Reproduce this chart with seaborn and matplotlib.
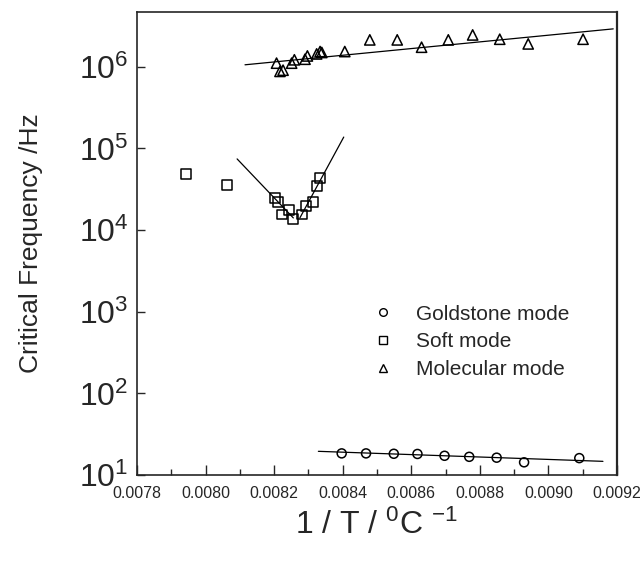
import numpy as np
import pandas as pd
import matplotlib
matplotlib.use("Agg")
import matplotlib.pyplot as plt
from matplotlib.lines import Line2D
from matplotlib.ticker import MultipleLocator, FormatStrFormatter, LogLocator, NullLocator, LogFormatterSciNotation
import seaborn as sns

# Critical frequencies of the relaxation modes versus inverse temperature
gold_x = [0.008397, 0.008468, 0.008549, 0.008618, 0.008697, 0.008769, 0.008849, 0.008929, 0.009090]
gold_y = [18.4, 18.4, 18.2, 18.1, 17.2, 16.7, 16.3, 14.3, 16.1]

soft_x = [0.007943, 0.008063, 0.008202, 0.008212, 0.008224, 0.008244,
          0.008254, 0.008282, 0.008293, 0.008314, 0.008326, 0.008334]
soft_y = [4.92e4, 3.54e4, 2.48e4, 2.22e4, 1.55e4, 1.75e4,
          1.37e4, 1.55e4, 1.96e4, 2.22e4, 3.44e4, 4.35e4]

mol_x = [0.008207, 0.008217, 0.008226, 0.008251, 0.008259, 0.008290, 0.008297,
         0.008324, 0.008334, 0.008339, 0.008406, 0.008479, 0.008559, 0.008630,
         0.008708, 0.008779, 0.008858, 0.008941, 0.009101]
mol_y = [1.11e6, 8.8e5, 9.1e5, 1.11e6, 1.22e6, 1.24e6, 1.36e6,
         1.44e6, 1.54e6, 1.50e6, 1.54e6, 2.14e6, 2.14e6, 1.74e6,
         2.14e6, 2.46e6, 2.18e6, 1.91e6, 2.18e6]

# Linear (Arrhenius-type) fit segments: end points
gold_fit_x = [0.008329, 0.009159]
gold_fit_y = [19.5, 14.7]
soft_fit_left_x = [0.008092, 0.008256]
soft_fit_left_y = [7.45e4, 1.41e4]
soft_fit_right_x = [0.008275, 0.008403]
soft_fit_right_y = [1.41e4, 1.38e5]
mol_fit_x = [0.008115, 0.009189]
mol_fit_y = [1.06e6, 2.92e6]

labels = ["Goldstone mode", "Soft mode", "Molecular mode"]
x_ticks = [0.0078, 0.0080, 0.0082, 0.0084, 0.0086, 0.0088, 0.0090, 0.0092]

sns.set_style("ticks")
plt.rcParams["font.family"] = ["Liberation Sans", "DejaVu Sans"]
plt.rcParams["mathtext.fontset"] = "custom"
plt.rcParams["mathtext.rm"] = "Liberation Sans"
plt.rcParams["mathtext.it"] = "Liberation Sans:italic"
plt.rcParams["mathtext.default"] = "regular"

fig = plt.figure(figsize=(6.44, 5.69), dpi=100)
ax = fig.add_axes([137 / 644, 1 - 475 / 569, 480 / 644, 463 / 569])

pt_kw = dict(color="black", facecolor="none", edgecolor="black", linewidth=1.1, legend=False)
sns.scatterplot(x=gold_x, y=gold_y, marker="o", s=42, ax=ax, **pt_kw)
sns.scatterplot(x=soft_x, y=soft_y, marker="s", s=50, ax=ax, **pt_kw)
sns.scatterplot(x=mol_x, y=mol_y, marker="^", s=55, ax=ax, **pt_kw)

line_kw = dict(color="black", linewidth=0.9, sort=False, legend=False)
for fx, fy in [(gold_fit_x, gold_fit_y), (soft_fit_left_x, soft_fit_left_y),
               (soft_fit_right_x, soft_fit_right_y), (mol_fit_x, mol_fit_y)]:
    sns.lineplot(x=fx, y=fy, ax=ax, **line_kw)

ax.set_yscale("log")
ax.set_xlim(0.0078, 0.0092)
ax.set_ylim(10, 4.7e6)

ax.set_xticks(x_ticks)
ax.xaxis.set_major_formatter(FormatStrFormatter("%.4f"))
ax.xaxis.set_minor_locator(MultipleLocator(0.0001))
ax.yaxis.set_major_locator(LogLocator(base=10, numticks=10))
ax.yaxis.set_major_formatter(LogFormatterSciNotation())
ax.yaxis.set_minor_locator(NullLocator())

ax.tick_params(axis="x", which="major", direction="in", length=7, width=1.0, labelsize=11.5, pad=8)
ax.tick_params(axis="x", which="minor", direction="in", length=4, width=1.0)
ax.tick_params(axis="y", which="major", direction="in", length=6, width=1.0, labelsize=23, pad=6)

for side in ["left", "bottom", "top"]:
    ax.spines[side].set_linewidth(1.2)
ax.spines["right"].set_linewidth(1.6)

ax.set_xlabel(r"1 / T / $^{0}$C $^{-1}$", fontsize=23, labelpad=6)
ax.set_ylabel("Critical Frequency /Hz", fontsize=19)
ax.yaxis.set_label_coords(-0.196, 0.5)

markers = ["o", "s", "^"]
handles = [Line2D([], [], linestyle="none", marker=m, markersize=5.5,
                  markerfacecolor="none", markeredgecolor="black", markeredgewidth=1.0)
           for m in markers]
ax.legend(handles, labels, loc="upper left", bbox_to_anchor=(0.49, 0.368),
          frameon=False, fontsize=15, handlelength=1.0, handletextpad=1.1,
          labelspacing=0.42, borderpad=0, borderaxespad=0)

fig.savefig("out.png", dpi=100)
